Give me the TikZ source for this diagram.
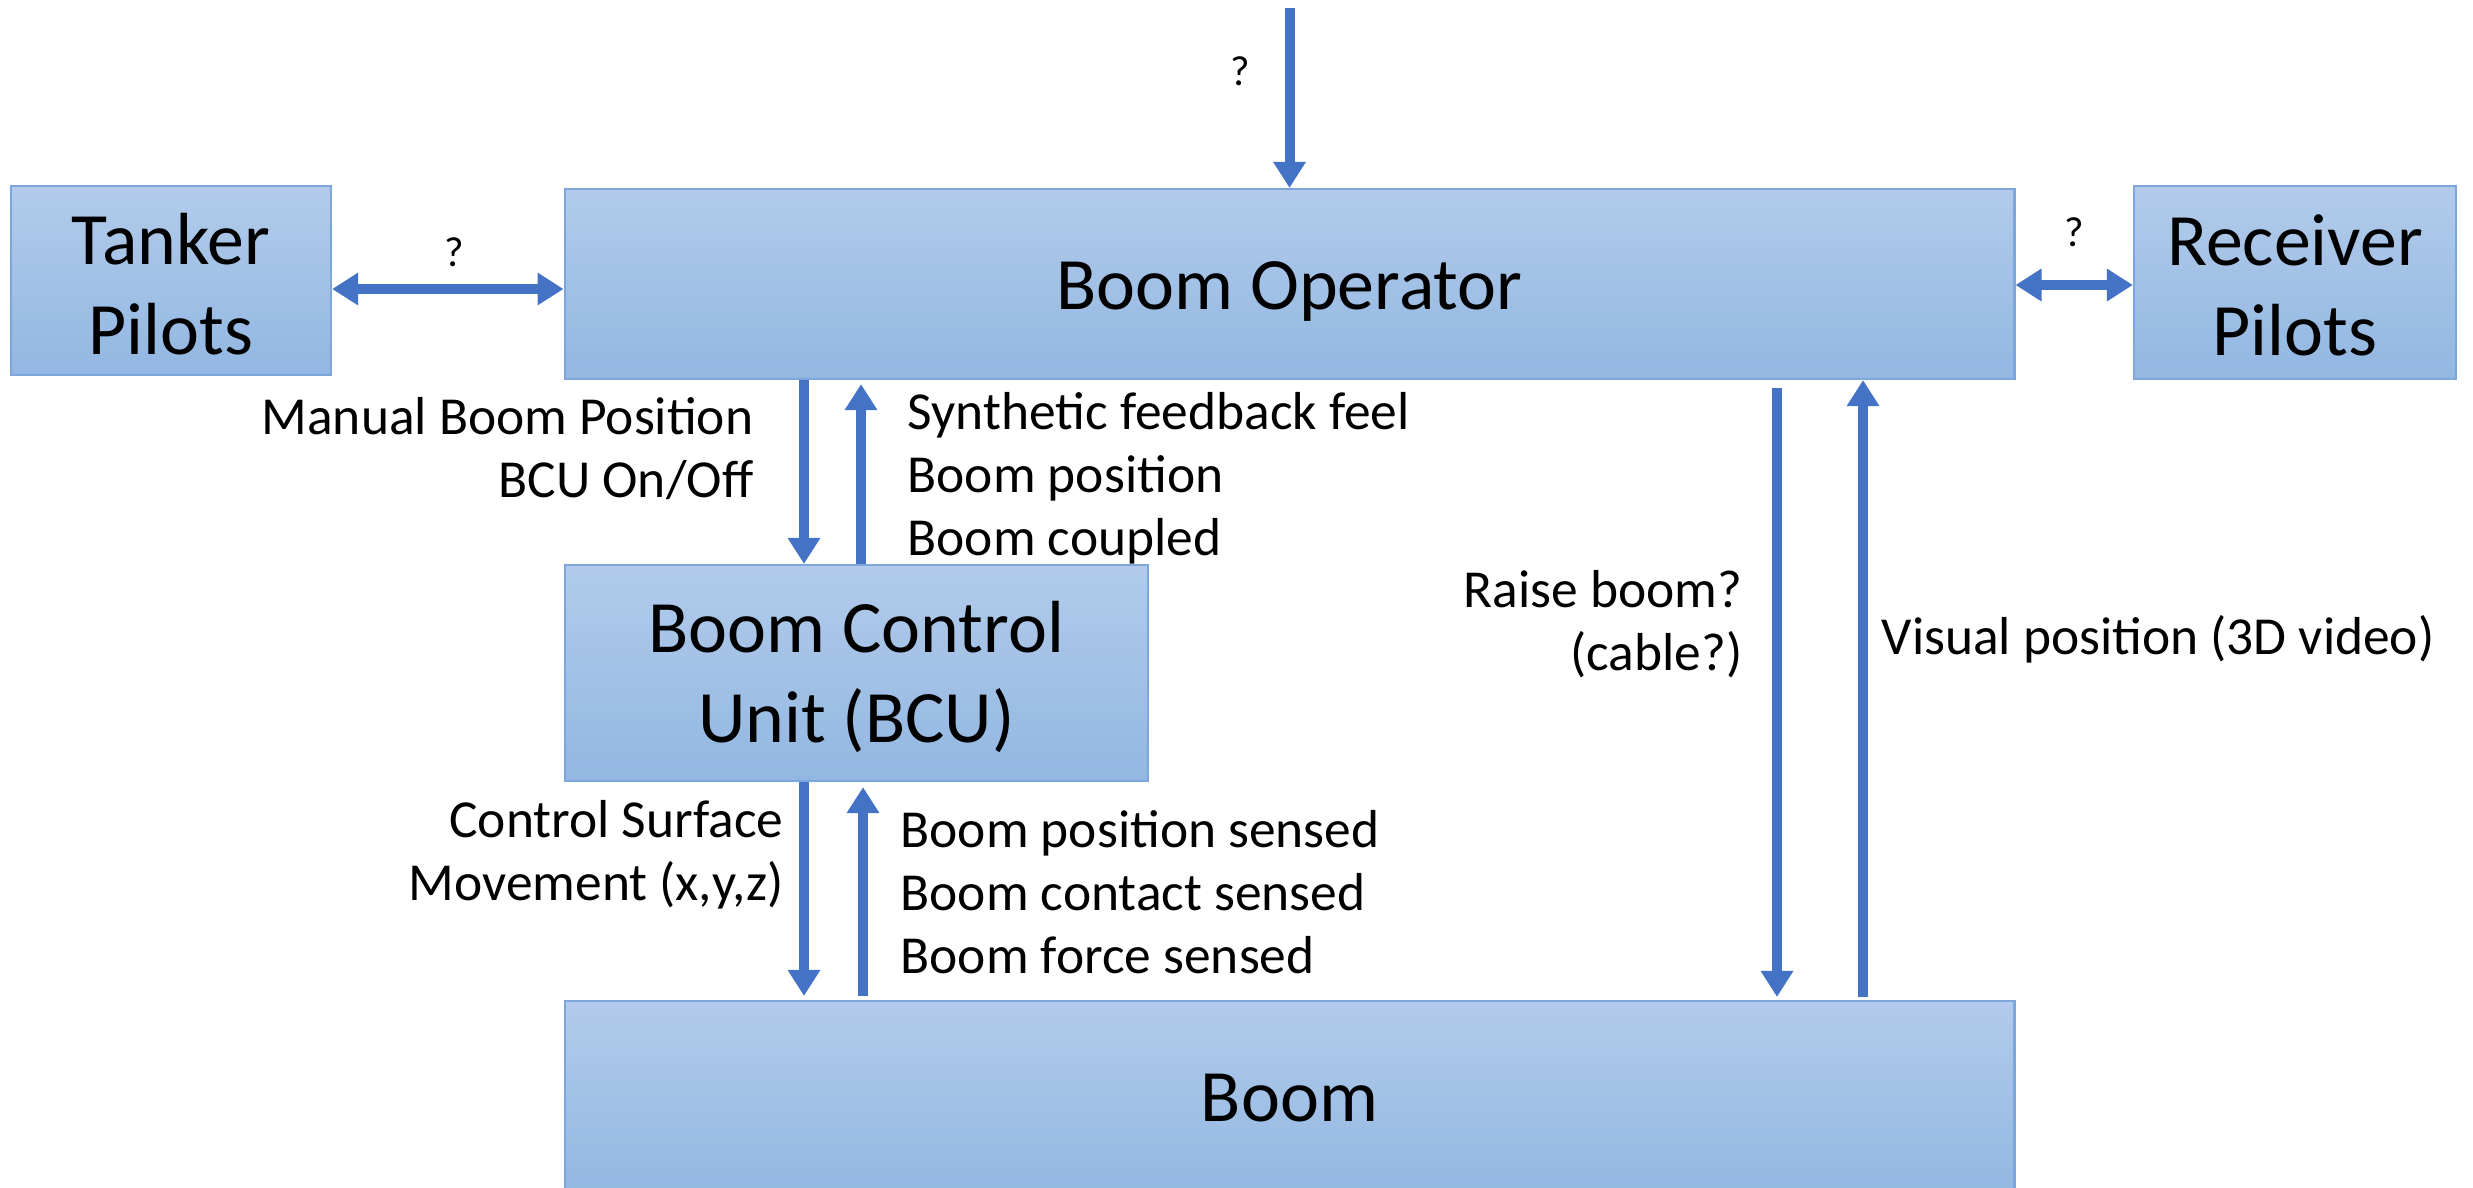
\documentclass[tikz,border=0pt]{standalone}
\usepackage{fontspec}
\setmainfont{Carlito}
\usetikzlibrary{arrows.meta}
\definecolor{boxtop}{RGB}{178,203,234}
\definecolor{boxbot}{RGB}{146,183,226}
\definecolor{boxedge}{RGB}{125,166,220}
\definecolor{arr}{RGB}{68,114,196}
\begin{document}
\begin{tikzpicture}[x=0.01cm,y=-0.01cm,
  blk/.style={draw=boxedge, line width=0.6pt, top color=boxtop, bottom color=boxbot, inner sep=0pt},
  bigtxt/.style={inner sep=0pt, align=center, font=\fontsize{21}{25.6}\selectfont},
  flow/.style={draw=arr, line width=0.1cm, -{Triangle[width=0.31cm,length=0.26cm]}},
  both/.style={draw=arr, line width=0.1cm, {Triangle[width=0.31cm,length=0.26cm]}-{Triangle[width=0.31cm,length=0.26cm]}},
  lbl/.style={font=\fontsize{15.2}{17.9}\selectfont, inner sep=0pt},
  qm/.style={font=\fontsize{12}{14}\selectfont, inner sep=0pt}]
\clip (0,0) rectangle (2473,1187);
\useasboundingbox (0,0) rectangle (2473,1187);
\fill[white] (0,0) rectangle (2473,1187);

% boxes
\node[blk, minimum width=3.2cm, minimum height=1.89cm] (tank) at (171,280.5) {};
\node[blk, minimum width=14.49cm, minimum height=1.90cm] (bo) at (1289.5,284) {};
\node[blk, minimum width=3.22cm, minimum height=1.93cm] (rec) at (2295,282.5) {};
\node[blk, minimum width=5.83cm, minimum height=2.16cm] (bcu) at (856.5,673) {};
\node[blk, minimum width=14.49cm, minimum height=1.94cm] (boom) at (1289.5,1098) {};

\node[bigtxt] (tanktxt) at ([yshift=-0.04cm]tank.center) {Tanker\\Pilots};
\node[bigtxt] (botxt) at ([yshift=-0.07cm]bo.center) {Boom Operator};
\node[bigtxt] (rectxt) at ([yshift=-0.03cm]rec.center) {Receiver\\Pilots};
\node[bigtxt] (bcutxt) at ([yshift=-0.04cm]bcu.center) {Boom Control\\Unit (BCU)};
\node[bigtxt] (boomtxt) at (boom.center) {Boom};

% connectors
\coordinate (topin) at (1289.5,8);
\draw[flow] (topin) -- (bo.north);
\draw[both] (tank.east |- 0,289) -- (bo.west |- 0,289);
\draw[both] (bo.east |- 0,285) -- (rec.west |- 0,285);

\draw[flow] (bo.south -| 804,0) -- (bcu.north -| 804,0);
\draw[flow] (bcu.north -| 861,0) -- ([yshift=-0.04cm]bo.south -| 861,0);
\draw[flow] (bcu.south -| 804,0) -- ([yshift=0.04cm]boom.north -| 804,0);
\draw[flow] ([yshift=0.04cm]boom.north -| 863,0) -- ([yshift=-0.05cm]bcu.south -| 863,0);

\draw[flow] ([yshift=-0.08cm]bo.south -| 1777,0) -- ([yshift=0.03cm]boom.north -| 1777,0);
\draw[flow] ([yshift=0.03cm]boom.north -| 1863,0) -- (bo.south -| 1863,0);

% labels
\node[qm] (q1) at (1240,71) {?};
\node[qm] (q2) at (454,252) {?};
\node[qm] (q3) at (2074,232) {?};
\node[lbl, align=right, anchor=east] (l1) at (754,449) {Manual Boom Position\\BCU On/Off};
\node[lbl, align=left, anchor=west] (l2) at (907,478) {Synthetic feedback feel\\Boom position\\Boom coupled};
\node[lbl, align=right, anchor=east] (l3) at (784,855) {Control Surface\\Movement (x,y,z)};
\node[lbl, align=left, anchor=west] (l4) at (900,892) {Boom position sensed\\Boom contact sensed\\Boom force sensed};
\node[lbl, align=right, anchor=east] (l5) at (1743,624) {Raise boom?\\(cable?)};
\node[lbl, align=left, anchor=west] (l6) at (1881,639) {Visual position (3D video)};
\end{tikzpicture}
\end{document}
